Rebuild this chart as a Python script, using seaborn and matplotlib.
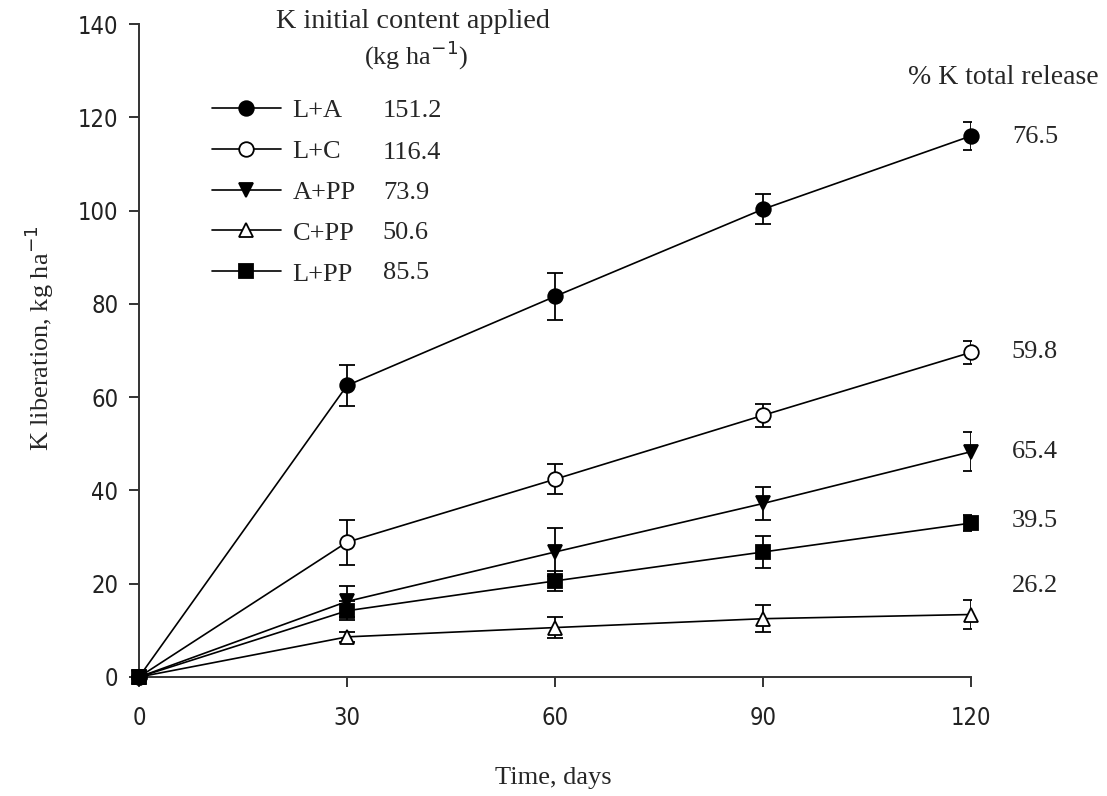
import matplotlib
matplotlib.use('Agg')
import matplotlib.pyplot as plt
import seaborn as sns
import pandas as pd

# dados
dias = [0, 30, 60, 90, 120]
tratamentos = ['L+A', 'L+C', 'A+PP', 'C+PP', 'L+PP']
k_inicial = ['151.2', '116.4', '73.9', '50.6', '85.5']
pct_liberado = ['76.5', '59.8', '65.4', '26.2', '39.5']

la = [0, 62.5, 81.6, 100.3, 116.0]
lc = [0, 28.9, 42.4, 56.1, 69.6]
app = [0, 16.2, 26.8, 37.2, 48.3]
cpp = [0, 8.6, 10.6, 12.5, 13.4]
lpp = [0, 14.2, 20.6, 26.8, 33.0]

la_err = [0, 4.5, 5.0, 3.2, 3.0]
lc_err = [0, 4.8, 3.2, 2.4, 2.5]
app_err = [0, 3.4, 5.1, 3.5, 4.2]
cpp_err = [0, 1.0, 2.3, 2.9, 3.1]
lpp_err = [0, 2.0, 2.2, 3.4, 1.8]

valores = [la, lc, app, cpp, lpp]
erros = [la_err, lc_err, app_err, cpp_err, lpp_err]

# estilo de cada serie
marcadores = ['o', 'o', 'v', '^', 's']
preenchimento = ['black', 'white', 'black', 'white', 'black']
pos_pct = [115.8, 69.7, 48.2, 19.5, 33.4]  # altura dos textos da direita

df = pd.DataFrame({
    'Dias': dias * len(tratamentos),
    'K': sum(valores, []),
    'Tratamento': [t for t in tratamentos for _ in dias],
})

sns.set_style('ticks')
serif = ['Liberation Serif', 'DejaVu Serif']
sans = ['DejaVu Sans']

fig = plt.figure(figsize=(11.07, 7.96), dpi=100)
ax = fig.add_axes([0.1256, 0.1495, 0.7515, 0.8203])

for i, t in enumerate(tratamentos):
    sub = df[df['Tratamento'] == t]
    sns.lineplot(data=sub, x='Dias', y='K', ax=ax, color='black', linewidth=1.2,
                 marker=marcadores[i], markersize=10.5, markerfacecolor=preenchimento[i],
                 markeredgecolor='black', markeredgewidth=1.3, label=t, clip_on=False, zorder=3)
    ax.errorbar(dias[1:], valores[i][1:], yerr=erros[i][1:], fmt='none', ecolor='black',
                elinewidth=1.3, capsize=6, capthick=1.3, zorder=2)

ax.set_xlim(0, 120)
ax.set_ylim(0, 140)
ax.set_xticks(dias)
ax.set_yticks(range(0, 141, 20))
sns.despine(ax=ax)
for s in ['left', 'bottom']:
    ax.spines[s].set_linewidth(1.4)
    ax.spines[s].set_color('#333333')
ax.tick_params(direction='out', length=7, width=1.4, colors='#333333', pad=8)
ax.tick_params(axis='x', pad=14)
for lbl in ax.get_xticklabels() + ax.get_yticklabels():
    lbl.set_family(sans)
    lbl.set_fontsize(17)
    lbl.set_stretch('condensed')
    lbl.set_color('#222222')

ax.set_xlabel('Time, days', family=serif, fontsize=19, va='top')
ax.xaxis.set_label_coords(0.4976, -0.138)
ax.set_ylabel('K liberation, kg ha$^{-1}$', family=serif, fontsize=19)
ax.yaxis.set_label_coords(-0.1, 0.519)

leg = ax.legend(loc='upper left', bbox_to_anchor=(0.075, 0.902), frameon=False,
                prop={'family': serif, 'size': 19}, handlelength=2.6, handletextpad=0.45,
                labelspacing=0.66, borderaxespad=0)

# valores de K aplicado ao lado da legenda
linhas_leg = [0.867, 0.802, 0.741, 0.680, 0.618]
for v, yy in zip(k_inicial, linhas_leg):
    ax.text(0.293, yy, v, transform=ax.transAxes, family=serif, fontsize=19,
            ha='left', va='center')

fig.text(413 / 1107, 1 - 22 / 796, 'K initial content applied', family=serif, fontsize=20.3,
         ha='center', va='center')
fig.text(416 / 1107, 1 - 55 / 796, '(kg ha$^{-1}$)', family=serif, fontsize=19,
         ha='center', va='center')
fig.text(1099 / 1107, 1 - 78 / 796, '% K total release', family=serif, fontsize=20,
         ha='right', va='center')

for p, yy in zip(pct_liberado, pos_pct):
    ax.text(125.9, yy, p, family=serif, fontsize=19, ha='left', va='center', clip_on=False)

fig.savefig('out.png', dpi=100)
